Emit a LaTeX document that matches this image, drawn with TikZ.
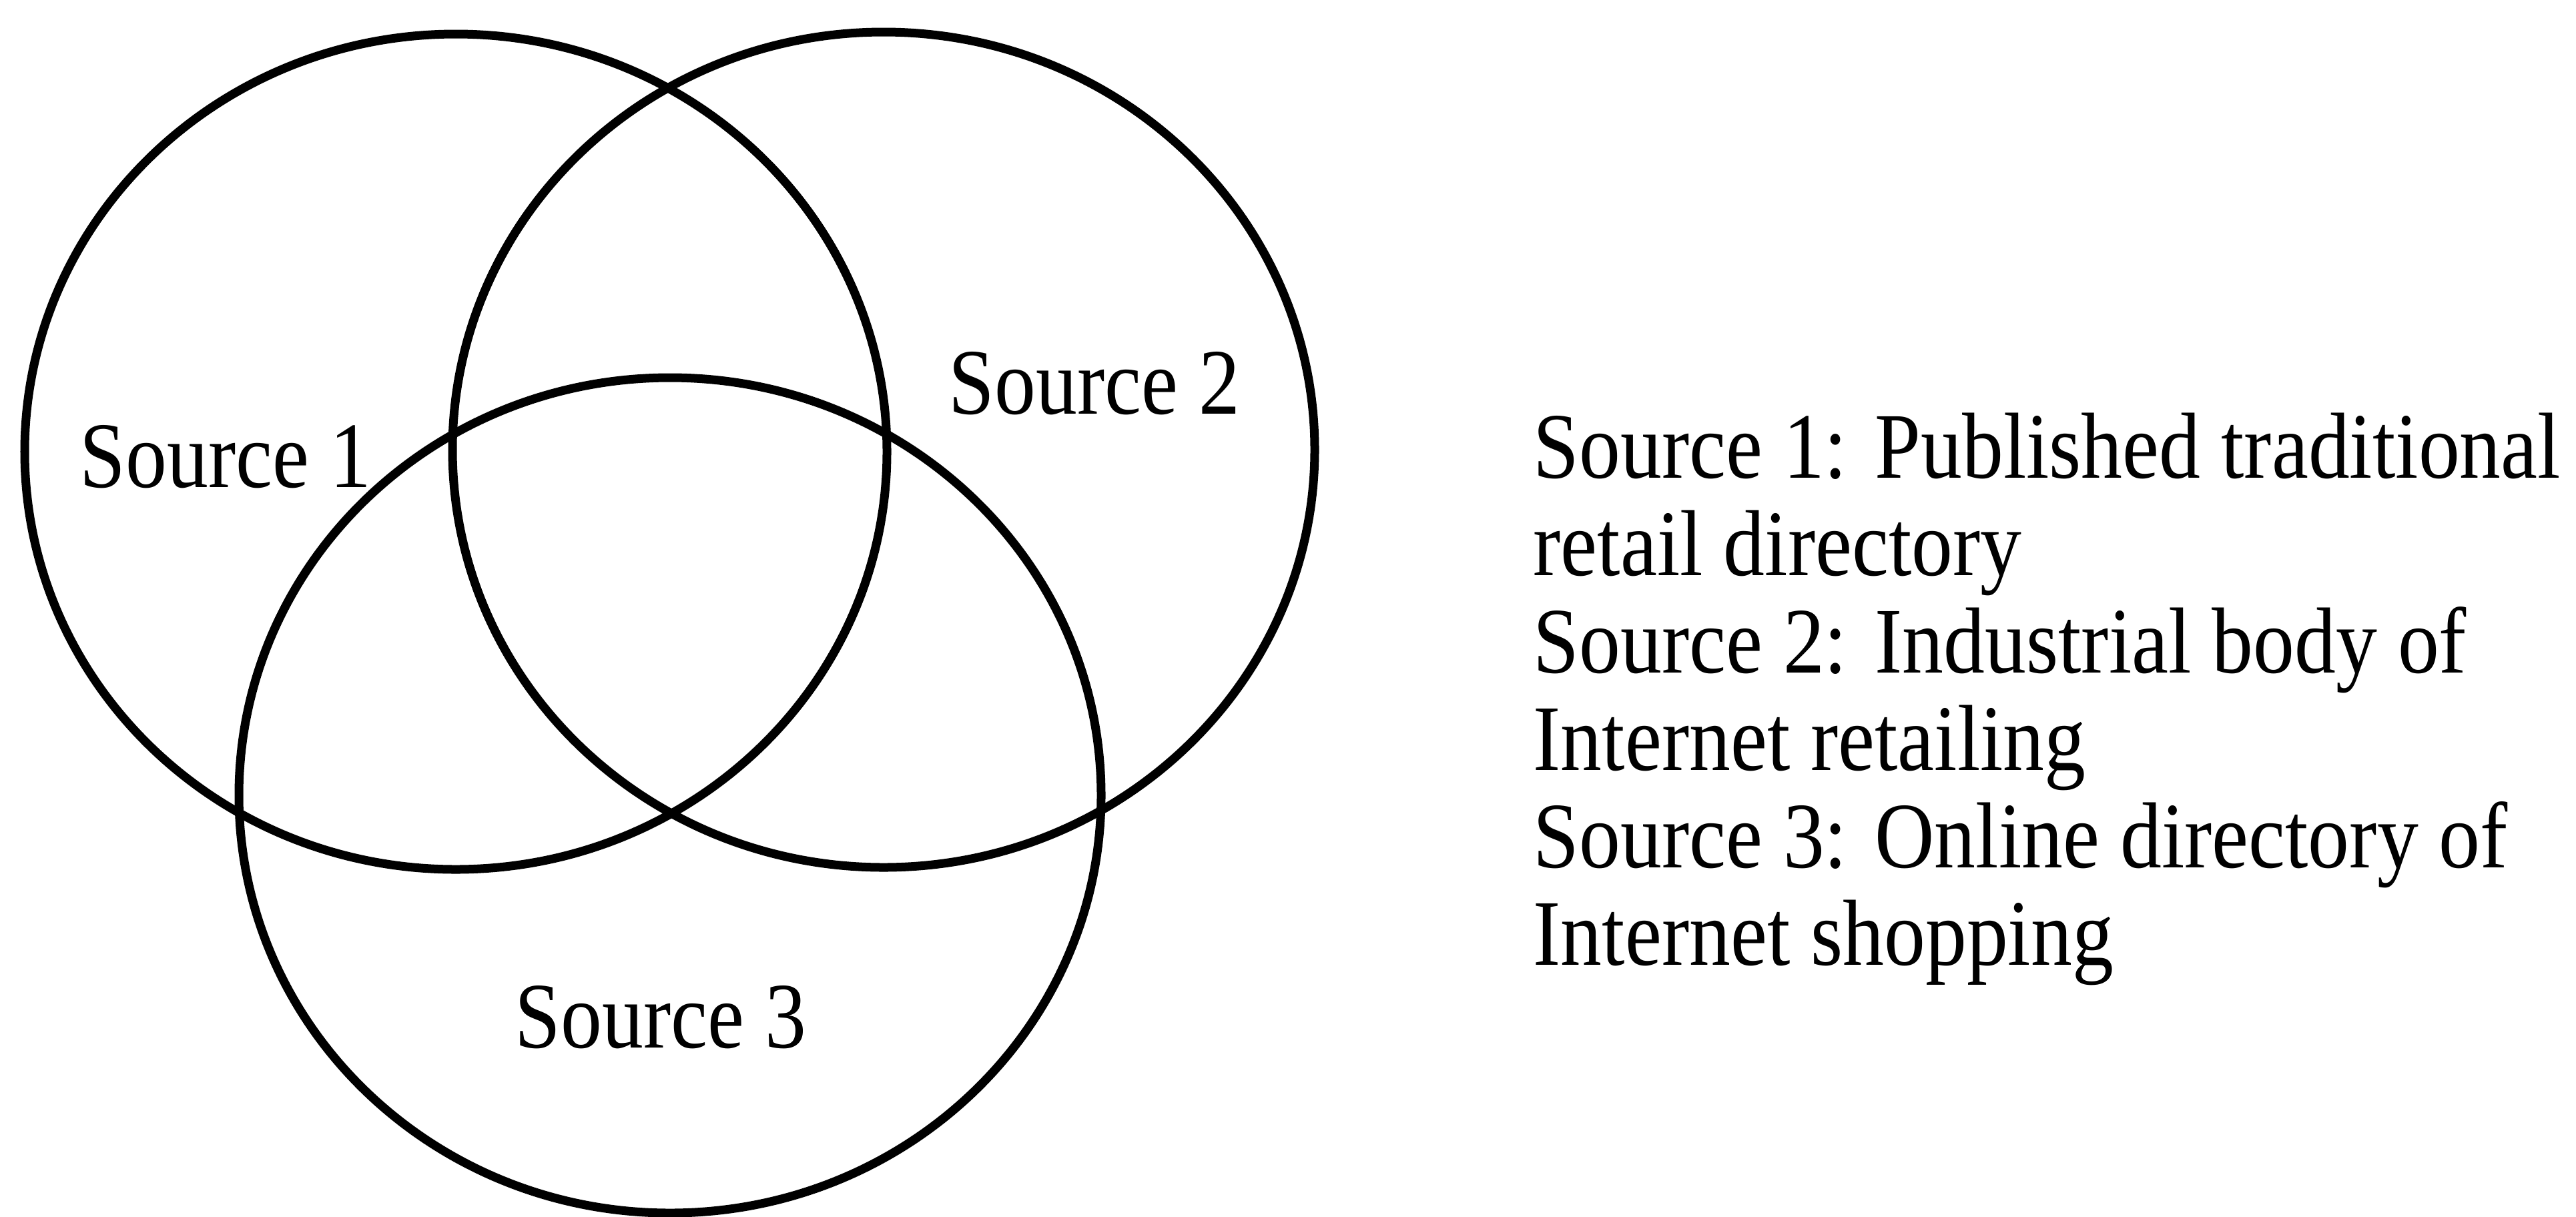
\documentclass[tikz,border=0pt]{standalone}
\usepackage{fontspec}
\setmainfont{Liberation Serif}
\usepackage{tikz}

\begin{document}
\begin{tikzpicture}[venn/.style={line width=3.7pt}, lbl/.style={font=\fontsize{40}{44}\selectfont, inner sep=0pt, xscale=0.88}]
            \useasboundingbox (0,0) rectangle (38.6,-18.23);
            \coordinate (C1) at (6.83,-6.77);
            \coordinate (C2) at (13.24,-6.74);
            \coordinate (C3) at (10.04,-11.92);
            \draw[venn] (C1) ellipse (6.46 and 6.26);
            \draw[venn] (C2) ellipse (6.46 and 6.26);
            \draw[venn] (C3) ellipse (6.46 and 6.26);
            \node (src1) at (3.38,-7.3) [lbl, anchor=base] {Source 1};
            \node (src2) at (16.40,-6.2) [lbl, anchor=base] {Source 2};
            \node (src3) at (9.90,-15.7) [lbl, anchor=base] {Source 3};
            \foreach \txt [count=\i] in {{Source 1: Published traditional}, {retail directory}, {Source 2: Industrial body of}, {Internet retailing}, {Source 3: Online directory of}, {Internet shopping}}
                \node (leg\i) at (22.97,{-7.16-1.46*(\i-1)}) [lbl, anchor=base west] {\txt};
        \end{tikzpicture}
\end{document}
